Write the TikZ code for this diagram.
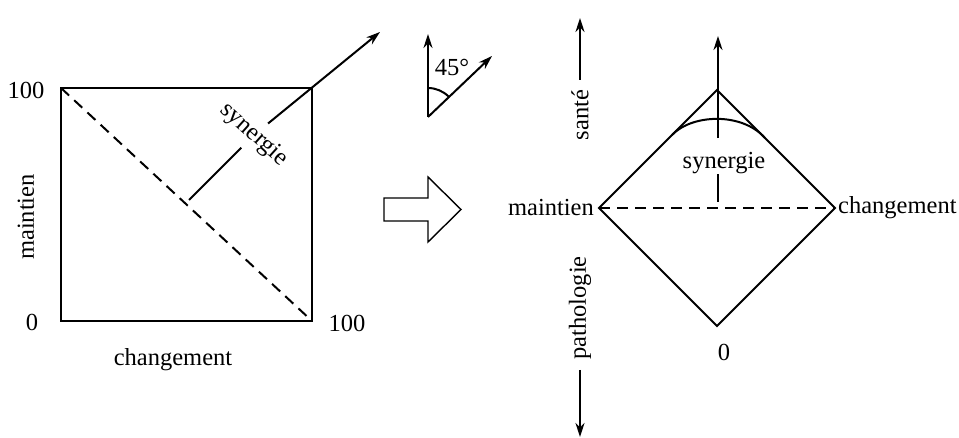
\documentclass[tikz,border=0pt]{standalone}
\usepackage{fontspec}
\setmainfont{Liberation Serif}
\usetikzlibrary{arrows.meta,positioning,calc}

\begin{document}
\begin{tikzpicture}[
    x=1pt, y=1pt,
    >={Stealth[length=14pt,width=9pt]},
    font=\fontsize{24.5}{28}\selectfont,
    lbl/.style={inner sep=2pt},
    axlbl/.style={rotate=90, inner sep=10pt},
    ln/.style={line width=2pt},
    dsh/.style={line width=2pt, dash pattern=on 11pt off 7pt}
]
\useasboundingbox (0,0) rectangle (959,438);

% carre maintien / changement
\coordinate (sqBL) at (61,117);
\coordinate (sqTR) at (312,350);
\coordinate (sqTL) at (61,350);
\coordinate (sqBR) at (312,117);
\draw[ln] (sqBL) rectangle (sqTR);
\draw[dsh] (sqTL) -- (sqBR);
\node[lbl] (yMax) at (26,348) {100};
\node[lbl] (orig) at (32,116) {0};
\node[lbl] (xMax) at (347,115) {100};
\node[lbl] (xLbl) at (173,78) {changement};
\node[lbl, rotate=90] (yLbl) at (26,221) {maintien};

\coordinate (synFoot) at (189,238);
\coordinate (synTip) at (380,406);
\node[lbl, rotate=-42, inner sep=7pt] (synL) at (254,303) {synergie};
\draw[ln] (synFoot) -- (synL);
\draw[ln, ->] (synL) -- (synTip);

% angle 45
\coordinate (a0) at (428,321);
\coordinate (aUp) at (428,404);
\coordinate (aDiag) at (492,382);
\draw[ln, ->] (a0) -- (aUp);
\draw[ln, ->] (a0) -- (aDiag);
\draw[ln] ($(a0)+(0,29)$) arc[start angle=90, end angle=44, radius=29pt];
\node[lbl] (aLbl) at (452,371) {45°};

% grosse fleche
\draw[line width=1.4pt] (384,240) -- (428,240) -- (428,261) -- (461,228.5)
    -- (428,196) -- (428,217) -- (384,217) -- cycle;

% losange
\coordinate (dL) at (599,230);
\coordinate (dR) at (835,230);
\coordinate (dT) at (717,348);
\coordinate (dB) at (717,112);
\draw[ln] (dL) -- (dT) -- (dR) -- (dB) -- cycle;
\draw[dsh] (dL) -- (dR);
\node[lbl, left=3pt of dL] (mR) {maintien};
\node[lbl, right=1pt of dR] (cR) {changement};
\node[lbl] (zero) at (724,86) {0};

\coordinate (vFoot) at (718,236);
\coordinate (vTip) at (718,402);
\node[inner sep=0pt] (synR) at (724,275) {synergie};
\draw[ln] (vFoot) -- (vFoot |- synR.south);
\draw[ln, ->] ($(vFoot |- synR.north)+(0,14)$) -- (vTip);
\draw[ln] (672,303) .. controls (692,324) and (742,326) .. (765,300);

% sante / pathologie
\node[axlbl] (sante) at (580,323) {santé};
\coordinate (santeTip) at (580,420);
\draw[ln, ->] (sante) -- (santeTip);
\node[axlbl] (patho) at (580,130) {pathologie};
\coordinate (pathoTip) at (580,1);
\draw[ln, ->] (patho) -- (pathoTip);
\end{tikzpicture}
\end{document}
